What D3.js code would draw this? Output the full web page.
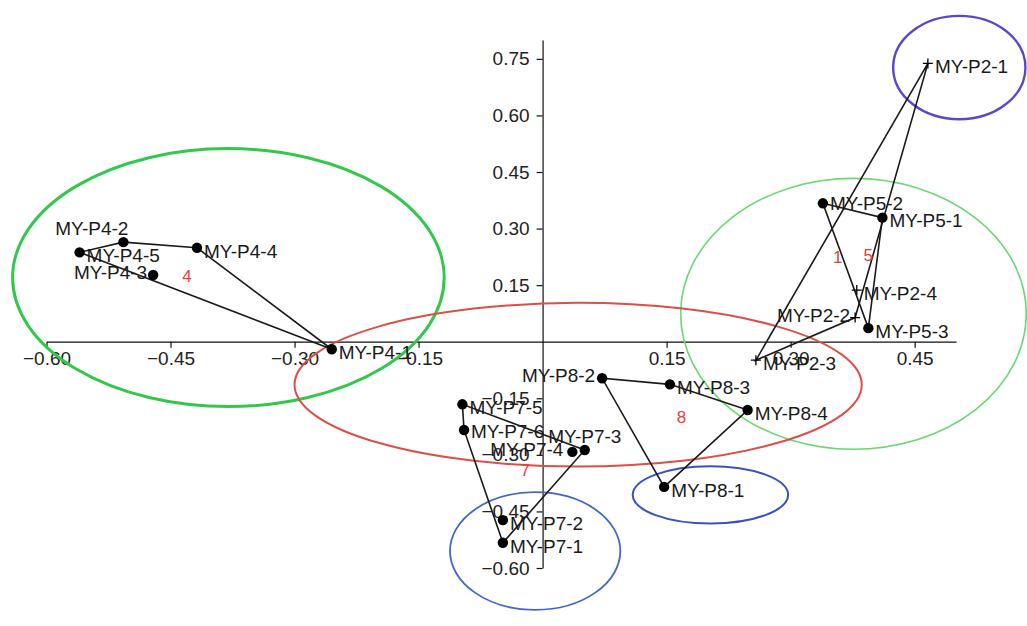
<!DOCTYPE html>
<html>
<head>
<meta charset="utf-8">
<script src="https://cdn.jsdelivr.net/npm/d3@7"></script>
<style>
  body { margin: 0; background: #fff; }
  svg { display: block; font-family: "Liberation Sans", Arial, sans-serif; }
</style>
</head>
<body>
<div id="chart"></div>
<script>
// points
const pointNames = [
  "MY-P4-1", "MY-P4-2", "MY-P4-3", "MY-P4-4", "MY-P4-5",
  "MY-P5-1", "MY-P5-2", "MY-P5-3",
  "MY-P2-1", "MY-P2-2", "MY-P2-3", "MY-P2-4",
  "MY-P8-1", "MY-P8-2", "MY-P8-3", "MY-P8-4",
  "MY-P7-1", "MY-P7-2", "MY-P7-3", "MY-P7-4", "MY-P7-5", "MY-P7-6"
];
const pointX = [
  -0.255, -0.507, -0.471, -0.418, -0.560,
  0.411, 0.339, 0.394,
  0.466, 0.378, 0.258, 0.380,
  0.147, 0.072, 0.154, 0.248,
  -0.048, -0.048, 0.051, 0.036, -0.097, -0.095
];
const pointY = [
  -0.020, 0.264, 0.177, 0.249, 0.237,
  0.329, 0.367, 0.036,
  0.738, 0.064, -0.049, 0.137,
  -0.385, -0.097, -0.113, -0.181,
  -0.533, -0.473, -0.287, -0.292, -0.166, -0.234
];
const pointGroup = [
  "P4", "P4", "P4", "P4", "P4",
  "P5", "P5", "P5",
  "P2", "P2", "P2", "P2",
  "P8", "P8", "P8", "P8",
  "P7", "P7", "P7", "P7", "P7", "P7"
];
const crossGroups = ["P2"];

// cluster numbers
const clusterNames = ["4", "5", "1", "8", "7"];
const clusterX = [-0.430, 0.394, 0.357, 0.168, -0.021];
const clusterY = [0.174, 0.230, 0.225, -0.200, -0.340];

// ellipses (data units)
const ellipseCx = [-0.380, 0.376, 0.043, 0.504, -0.009, 0.203];
const ellipseCy = [0.170, 0.074, -0.114, 0.727, -0.555, -0.406];
const ellipseRx = [0.261, 0.209, 0.343, 0.080, 0.103, 0.094];
const ellipseRy = [0.342, 0.359, 0.217, 0.137, 0.156, 0.076];

// ticks
const xTicks = [-0.6, -0.45, -0.3, -0.15, 0.15, 0.3, 0.45];
const yTicks = [-0.6, -0.45, -0.3, -0.15, 0.15, 0.3, 0.45, 0.6, 0.75];

// styles
const ellipseColors = ["#33c84c", "#6cd872", "#dc4f47", "#5a48cc", "#4466cc", "#3b50c4"];
const ellipseWidths = [3, 1.6, 2, 2.4, 1.8, 2];
const labelPlace = {
  "MY-P4-2": { anchor: "end", dx: 5, dy: -14 },
  "MY-P4-3": { anchor: "end", dx: -6, dy: -3 },
  "MY-P2-2": { anchor: "end", dx: -5, dy: -2 },
  "MY-P7-4": { anchor: "end", dx: -9, dy: -3 },
  "MY-P8-2": { anchor: "end", dx: -7, dy: -3 },
  "MY-P7-3": { anchor: "middle", dx: 0, dy: -14 },
  "MY-P5-2": { anchor: "start", dx: 7, dy: 0 },
  "MY-P7-6": { anchor: "start", dx: 7, dy: 1 }
};

const width = 1027;
const height = 626;

const svg = d3
  .select("#chart")
  .append("svg")
  .attr("width", width)
  .attr("height", height);

const x = d3.scaleLinear().domain([-0.6, 0.5]).range([46.5, 956]);
const y = d3.scaleLinear().domain([-0.6, 0.8]).range([568, 40]);

const points = pointNames.map((name, i) => ({
  name,
  group: pointGroup[i],
  px: x(pointX[i]),
  py: y(pointY[i])
}));

// axes
const xAxis = d3
  .axisBottom(x)
  .tickValues(xTicks)
  .tickFormat(d3.format(".2f"))
  .tickSizeOuter(0);
const yAxis = d3
  .axisLeft(y)
  .tickValues(yTicks)
  .tickFormat(d3.format(".2f"))
  .tickSizeOuter(0);

const gx = svg
  .append("g")
  .attr("transform", `translate(0,${y(0)})`)
  .call(xAxis);
const gy = svg
  .append("g")
  .attr("transform", `translate(${x(0)},0)`)
  .call(yAxis);

[gx, gy].forEach(g => {
  g.selectAll("path, line").attr("stroke", "#111").attr("stroke-width", 1.2);
  g.selectAll("text")
    .attr("fill", "#222")
    .attr("font-size", 19)
    .attr("font-family", "'Liberation Sans', Arial, sans-serif");
});
gx.selectAll("text").attr("y", 10);
gy.selectAll("text").attr("x", -13);

// ellipses
svg
  .append("g")
  .selectAll("ellipse")
  .data(ellipseCx)
  .enter()
  .append("ellipse")
  .attr("cx", d => x(d))
  .attr("cy", (d, i) => y(ellipseCy[i]))
  .attr("rx", (d, i) => x(d + ellipseRx[i]) - x(d))
  .attr("ry", (d, i) => y(ellipseCy[i] - ellipseRy[i]) - y(ellipseCy[i]))
  .attr("fill", "none")
  .attr("stroke", (d, i) => ellipseColors[i])
  .attr("stroke-width", (d, i) => ellipseWidths[i]);

// hulls
const hulls = d3
  .groups(points, d => d.group)
  .map(([key, pts]) => d3.polygonHull(pts.map(p => [p.px, p.py])));

svg
  .append("g")
  .selectAll("path")
  .data(hulls)
  .enter()
  .append("path")
  .attr("d", d => `M${d.join("L")}Z`)
  .attr("fill", "none")
  .attr("stroke", "#1a1a1a")
  .attr("stroke-width", 1.6);

// markers
const marks = svg
  .append("g")
  .selectAll("g")
  .data(points)
  .enter()
  .append("g")
  .attr("transform", d => `translate(${d.px},${d.py})`);

marks
  .filter(d => !crossGroups.includes(d.group))
  .append("circle")
  .attr("r", 5.2)
  .attr("fill", "#000");

marks
  .filter(d => crossGroups.includes(d.group))
  .append("path")
  .attr("d", "M-5,0H5M0,-5V5")
  .attr("stroke", "#000")
  .attr("stroke-width", 1.3);

// point labels
marks
  .append("text")
  .text(d => d.name)
  .each(function(d) {
    const p = labelPlace[d.name] || { anchor: "start", dx: 7, dy: 3 };
    d3.select(this)
      .attr("text-anchor", p.anchor)
      .attr("x", p.dx)
      .attr("y", p.dy + 6.8);
  })
  .attr("font-size", 19)
  .attr("fill", "#1a1a1a");

// cluster numbers
svg
  .append("g")
  .selectAll("text")
  .data(clusterNames)
  .enter()
  .append("text")
  .text(d => d)
  .attr("x", (d, i) => x(clusterX[i]))
  .attr("y", (d, i) => y(clusterY[i]) + 6)
  .attr("text-anchor", "middle")
  .attr("font-size", 17)
  .attr("fill", "#e8403c");
</script>
</body>
</html>
